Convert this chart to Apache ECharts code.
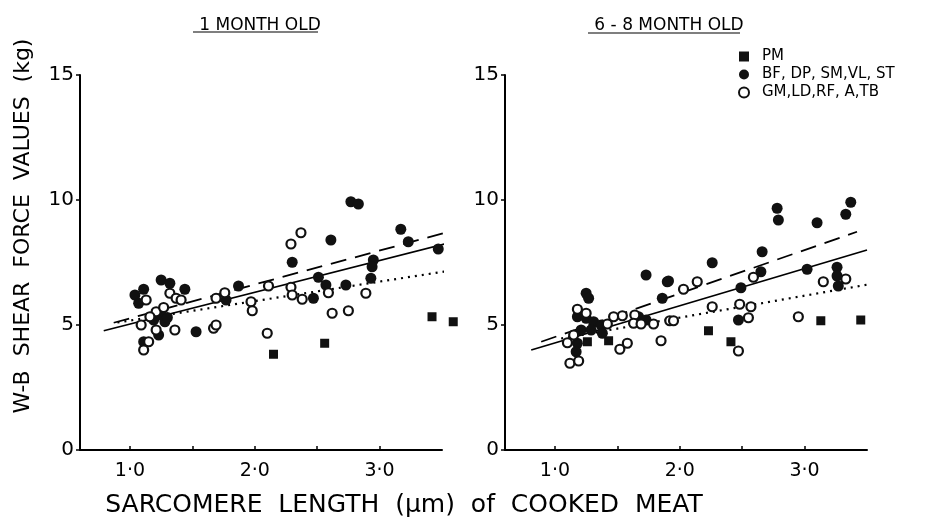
<!DOCTYPE html>
<html>
<head>
<meta charset="utf-8">
<script src="https://cdn.jsdelivr.net/npm/echarts@6/dist/echarts.min.js"></script>
<style>html,body{margin:0;padding:0;background:#fff}#c{width:931px;height:520px}</style>
</head>
<body>
<div id="c"></div>
<script>
// ---- data ----
const panelTitles = ['1 MONTH OLD', '6 - 8 MONTH OLD'];
const legendNames = ['PM', 'BF, DP, SM,VL, ST', 'GM,LD,RF, A,TB'];
const xTickValues = [1.0, 1.5, 2.0, 2.5, 3.0];
const xLabelValues = [1.0, 2.0, 3.0];
const yTickValues = [0, 5, 10, 15];
const xAxisTitle = 'SARCOMERE  LENGTH  (\u00b5m)  of  COOKED  MEAT';
const yAxisTitle = 'W-B  SHEAR  FORCE  VALUES  (kg)';

const leftPM = [[2.15,3.83],[2.56,4.27],[3.42,5.33],[3.59,5.13]];
const leftFilled = [[1.04,6.2],[1.11,6.43],[1.07,5.87],[1.25,6.8],[1.32,6.67],[1.44,6.43],[1.19,5.2],[1.28,5.13],
  [1.25,5.4],[1.30,5.3],[1.23,4.6],[1.11,4.33],[1.53,4.73],[1.87,6.56],[1.77,6.0],[2.77,9.93],[2.83,9.84],
  [3.17,8.83],[3.23,8.33],[3.47,8.04],[2.61,8.4],[2.30,7.51],[2.51,6.91],[2.57,6.6],[2.73,6.6],[2.95,7.6],
  [2.94,7.33],[2.93,6.87],[2.47,6.07]];
const leftOpen = [[1.13,6.0],[1.09,5.0],[1.15,4.33],[1.11,4.0],[1.21,4.8],[1.21,5.53],[1.27,5.7],[1.32,6.27],
  [1.37,6.07],[1.41,6.0],[1.36,4.8],[1.16,5.33],[1.69,6.07],[1.76,6.29],[1.67,4.87],[1.69,5.0],[1.97,5.93],[1.98,5.57],
  [2.37,8.69],[2.29,8.24],[2.11,6.56],[2.29,6.51],[2.30,6.2],[2.38,6.03],[2.59,6.29],[2.89,6.27],[2.62,5.47],
  [2.75,5.57],[2.10,4.67]];
const leftDashed = [[0.87,5.09],[3.63,8.83]];
const leftSolid = [[0.79,4.77],[3.52,8.24]];
const leftDotted = [[0.9,5.1],[3.7,7.28]];

const rightPM = [[1.26,4.33],[1.43,4.37],[2.23,4.77],[2.41,4.33],[3.13,5.17],[3.45,5.2]];
const rightFilled = [[1.25,6.27],[1.27,6.07],[1.73,7.0],[1.90,6.73],[1.86,6.07],[1.18,5.33],[1.25,5.27],[1.31,5.13],
  [1.37,5.0],[1.21,4.8],[1.29,4.8],[1.18,4.27],[1.17,3.93],[1.38,4.67],[1.67,5.33],[1.73,5.2],[2.78,9.67],[2.79,9.2],
  [3.37,9.91],[3.33,9.43],[3.10,9.09],[2.66,7.93],[2.26,7.49],[1.91,6.76],[2.65,7.13],[2.49,6.49],[3.02,7.23],
  [3.26,7.31],[3.26,6.96],[3.27,6.56],[2.47,5.2]];
const rightOpen = [[1.18,5.63],[1.25,5.47],[1.10,4.29],[1.15,4.6],[1.12,3.47],[1.19,3.56],[1.42,5.04],[1.54,5.37],
  [1.52,4.03],[1.58,4.27],[1.64,5.4],[1.63,5.07],[1.69,5.04],[1.79,5.04],[1.85,4.37],[1.92,5.17],[1.47,5.33],
  [2.59,6.91],[2.14,6.73],[2.03,6.43],[2.26,5.73],[2.48,5.83],[2.57,5.73],[2.55,5.29],[1.95,5.17],[2.47,3.96],
  [2.95,5.33],[3.15,6.73],[3.33,6.84]];
const rightDashed = [[0.89,4.33],[3.42,8.73]];
const rightSolid = [[0.81,4.0],[3.5,8.0]];
const rightDotted = [[1.05,4.46],[3.6,6.7]];

// ---- chart ----
const FONT = 'DejaVu Sans';
const chart = echarts.init(document.getElementById('c'), null, {renderer: 'canvas'});

function xAxisDef(gi) {
  return {
    type: 'value', gridIndex: gi, min: 0.6, max: 3.5,
    axisLine: {show: true, lineStyle: {color: '#000', width: 2}},
    axisTick: {show: true, inside: true, length: 4, customValues: xTickValues, lineStyle: {color: '#000', width: 1.5}},
    axisLabel: {show: true, customValues: xLabelValues, margin: 12, color: '#000', fontFamily: FONT, fontSize: 19,
      formatter: v => v.toFixed(1).replace('.', '\u00b7')},
    splitLine: {show: false}
  };
}
function yAxisDef(gi) {
  return {
    type: 'value', gridIndex: gi, min: 0, max: 15, interval: 5,
    axisLine: {show: true, lineStyle: {color: '#000', width: 2}},
    axisTick: {show: true, inside: false, length: 4, customValues: yTickValues, lineStyle: {color: '#000', width: 1.5}},
    axisLabel: {show: true, margin: 6, color: '#000', fontFamily: FONT, fontSize: 20},
    splitLine: {show: false}
  };
}
function lineSeries(gi, data, type) {
  return {
    type: 'line', xAxisIndex: gi, yAxisIndex: gi, data: data, symbol: 'none', clip: false, silent: true, z: 2,
    lineStyle: {color: '#000', width: type === 'dotted' ? 2.2 : 1.8,
      type: type === 'dashed' ? [16, 9] : (type === 'dotted' ? [2, 5] : 'solid')}
  };
}
function pointSeries(gi, name, data, kind) {
  const s = {type: 'scatter', name: name, xAxisIndex: gi, yAxisIndex: gi, data: data, clip: false, z: 3};
  if (kind === 'pm') { s.symbol = 'rect'; s.symbolSize = 9; s.itemStyle = {color: '#111', opacity: 1}; }
  else if (kind === 'filled') { s.symbol = 'circle'; s.symbolSize = 11; s.itemStyle = {color: '#111', opacity: 1}; }
  else { s.symbol = 'circle'; s.symbolSize = 9; s.itemStyle = {color: '#fff', borderColor: '#111', borderWidth: 2.2, opacity: 1}; }
  return s;
}

const option = {
  backgroundColor: '#fff',
  animation: false,
  title: [
    {text: panelTitles[0], left: 255, top: 12, textAlign: 'center', textStyle: {fontFamily: FONT, fontSize: 17, fontWeight: 'normal', color: '#000'}},
    {text: panelTitles[1], left: 664, top: 12, textAlign: 'center', textStyle: {fontFamily: FONT, fontSize: 17, fontWeight: 'normal', color: '#000'}},
    {text: xAxisTitle, left: 399, top: 488, textAlign: 'center', textStyle: {fontFamily: FONT, fontSize: 25, fontWeight: 'normal', color: '#000'}}
  ],
  legend: {
    left: 733, top: 44, orient: 'vertical', itemWidth: 10, itemHeight: 10, itemGap: 3,
    data: legendNames,
    textStyle: {fontFamily: FONT, fontSize: 15, color: '#000', padding: [0, 0, 0, 8]}
  },
  grid: [
    {left: 80, top: 75, width: 362, height: 375},
    {left: 505, top: 75, width: 362, height: 375}
  ],
  xAxis: [xAxisDef(0), xAxisDef(1)],
  yAxis: [yAxisDef(0), yAxisDef(1)],
  graphic: [
    {type: 'text', x: 23, y: 226, rotation: Math.PI / 2,
      style: {text: yAxisTitle, font: '22px "DejaVu Sans"', fill: '#000', textAlign: 'center', textVerticalAlign: 'middle'}},
    {type: 'line', shape: {x1: 193, y1: 32, x2: 318, y2: 32}, style: {stroke: '#000', lineWidth: 1.2}},
    {type: 'line', shape: {x1: 588, y1: 33, x2: 740, y2: 33}, style: {stroke: '#000', lineWidth: 1.2}}
  ],
  series: [
    lineSeries(0, leftDashed, 'dashed'),
    lineSeries(0, leftSolid, 'solid'),
    lineSeries(0, leftDotted, 'dotted'),
    pointSeries(0, legendNames[0], leftPM, 'pm'),
    pointSeries(0, legendNames[1], leftFilled, 'filled'),
    pointSeries(0, legendNames[2], leftOpen, 'open'),
    lineSeries(1, rightDashed, 'dashed'),
    lineSeries(1, rightSolid, 'solid'),
    lineSeries(1, rightDotted, 'dotted'),
    pointSeries(1, legendNames[0], rightPM, 'pm'),
    pointSeries(1, legendNames[1], rightFilled, 'filled'),
    pointSeries(1, legendNames[2], rightOpen, 'open')
  ]
};
chart.setOption(option);
</script>
</body>
</html>
